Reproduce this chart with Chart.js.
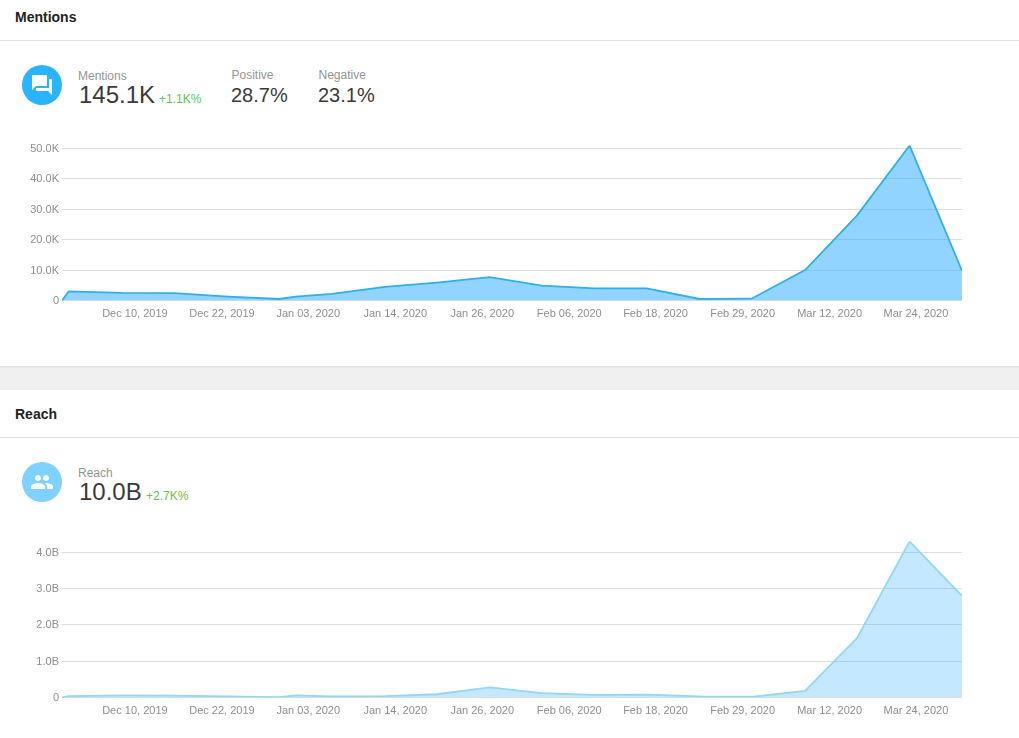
<!DOCTYPE html>
<html><head><meta charset="utf-8">
<script src="https://cdn.jsdelivr.net/npm/chart.js@4"></script>
<style>
html,body{margin:0;padding:0;background:#fff;width:1019px;height:738px;overflow:hidden;font-family:"Liberation Sans",Arial,sans-serif}
.t{position:absolute;white-space:nowrap;line-height:1}
.h{font-weight:bold;font-size:14px;color:#222;left:15px}
.rule{position:absolute;left:0;width:1019px;height:1px;background:#e2e2e2}
.l{font-size:12px;color:#949494}
.v{color:#3a3a3a}
.g{font-size:12px;color:#62c152}
.c{position:absolute;left:22px;width:40px;height:40px;border-radius:50%}
.c svg{position:absolute;left:8px;top:8px;width:24px;height:24px;fill:#fff}
canvas{position:absolute;left:0}
#band{position:absolute;left:0;top:366px;width:1019px;height:24px;background:#f0f0f0;box-shadow:inset 0 2px 2px -1px #dcdcdc}
</style></head><body>
<div class="t h" style="top:10px">Mentions</div><div class="rule" style="top:40px"></div>
<div class="c" style="top:65px;background:#29b4ff"><svg viewBox="0 0 24 24"><path d="M21 6h-2v9H6v2c0 .55.45 1 1 1h11l4 4V7c0-.55-.45-1-1-1zm-4 6V3c0-.55-.45-1-1-1H3c-.55 0-1 .45-1 1v14l4-4h10c.55 0 1-.45 1-1z"/></svg></div>
<div class="t l" style="left:78px;top:70px">Mentions</div>
<div class="t v" style="left:79px;top:83px;font-size:24px">145.1K</div>
<div class="t g" style="left:159px;top:93px">+1.1K%</div>
<div class="t l" style="left:231.5px;top:69px">Positive</div>
<div class="t v" style="left:231px;top:85px;font-size:20px">28.7%</div>
<div class="t l" style="left:318.5px;top:69px">Negative</div>
<div class="t v" style="left:318px;top:85px;font-size:20px">23.1%</div>
<canvas id="c1" width="1019" height="190" style="top:130px;width:1019px;height:190px"></canvas>
<div id="band"></div>
<div class="t h" style="top:407px">Reach</div><div class="rule" style="top:437px"></div>
<div class="c" style="top:462px;background:#7fd1ff"><svg viewBox="0 0 24 24"><path d="M16 11c1.66 0 2.99-1.34 2.99-3S17.66 5 16 5c-1.66 0-3 1.34-3 3s1.34 3 3 3zm-8 0c1.66 0 2.99-1.34 2.99-3S9.66 5 8 5C6.34 5 5 6.34 5 8s1.34 3 3 3zm0 2c-2.33 0-7 1.17-7 3.5V19h14v-2.5c0-2.33-4.67-3.5-7-3.5zm8 0c-.29 0-.62.02-.97.05 1.16.84 1.97 1.97 1.97 3.45V19h6v-2.5c0-2.33-4.67-3.5-7-3.5z"/></svg></div>
<div class="t l" style="left:78px;top:467px">Reach</div>
<div class="t v" style="left:79px;top:480px;font-size:24px">10.0B</div>
<div class="t g" style="left:146px;top:490px">+2.7K%</div>
<canvas id="c2" width="1019" height="190" style="top:527px;width:1019px;height:190px"></canvas>
<script>
// days since Nov 30, 2019
const days = [0, 0.9, 8.1, 15.1, 22.3, 29.2, 31.4, 36.3, 43.4, 50.4, 57.5, 64.5, 71.6, 78.6, 85.75, 92.7, 99.9, 106.9, 113.95, 121];
const mentions = [0, 3000, 2500, 2400, 1300, 500, 1300, 2200, 4500, 5900, 7700, 4900, 4000, 4000, 500, 600, 10000, 28000, 51000, 9800];
const reach = [0, 0.04, 0.06, 0.05, 0.03, 0.01, 0.06, 0.03, 0.04, 0.09, 0.28, 0.12, 0.07, 0.08, 0.03, 0.02, 0.18, 1.64, 4.3, 2.8];
const xLabels = ["Dec 10, 2019","Dec 22, 2019","Jan 03, 2020","Jan 14, 2020","Jan 26, 2020","Feb 06, 2020","Feb 18, 2020","Feb 29, 2020","Mar 12, 2020","Mar 24, 2020"];
const xTickDays = [9.8, 21.5, 33.1, 44.8, 56.5, 68.2, 79.8, 91.5, 103.2, 114.8];
const mentionTicks = [0, 10000, 20000, 30000, 40000, 50000];
const mentionLabels = ["0","10.0K","20.0K","30.0K","40.0K","50.0K"];
const reachTicks = [0, 1, 2, 3, 4];
const reachLabels = ["0","1.0B","2.0B","3.0B","4.0B"];
const font = {family:'"Liberation Sans",Arial,sans-serif', size:11, weight:'normal'};
function make(id, values, yTicks, yLabels, yMax, line, fill, top){
  new Chart(document.getElementById(id), {
    type:'line',
    data:{datasets:[{data:values.map((v,i)=>({x:days[i],y:v})), borderColor:line, backgroundColor:fill, borderWidth:1.8, pointRadius:0, fill:'origin', tension:0, borderJoinStyle:'miter'}]},
    options:{
      responsive:false, animation:false, events:[],
      layout:{padding:{top:top,right:57,left:0,bottom:0}},
      plugins:{legend:{display:false},tooltip:{enabled:false},title:{display:false}},
      scales:{
        x:{type:'linear',min:0,max:121,
          grid:{display:false,drawTicks:false},border:{display:false},
          afterBuildTicks:s=>{s.ticks=xTickDays.map(v=>({value:v}));},
          afterFit:s=>{s.height=19.5;},
          ticks:{autoSkip:false,maxRotation:0,minRotation:0,color:'#8e8e8e',font,padding:7,
            callback:(v)=>xLabels[xTickDays.indexOf(v)]}},
        y:{type:'linear',min:0,max:yMax,
          grid:{color:'#dedede',lineWidth:1,drawTicks:false},border:{display:false},
          afterBuildTicks:s=>{s.ticks=yTicks.map(v=>({value:v}));},
          afterFit:s=>{s.width=62;},
          ticks:{color:'#8e8e8e',font,padding:3,labelOffset:0.5,
            callback:(v)=>yLabels[yTicks.indexOf(v)]}}
      }
    }
  });
}
make('c1', mentions, mentionTicks, mentionLabels, 51000, '#2fb0e6', 'rgba(36,170,255,0.5)', 15.5);
make('c2', reach, reachTicks, reachLabels, 4.3, '#93d6f5', 'rgba(36,170,255,0.27)', 14.5);
</script>
</body></html>
